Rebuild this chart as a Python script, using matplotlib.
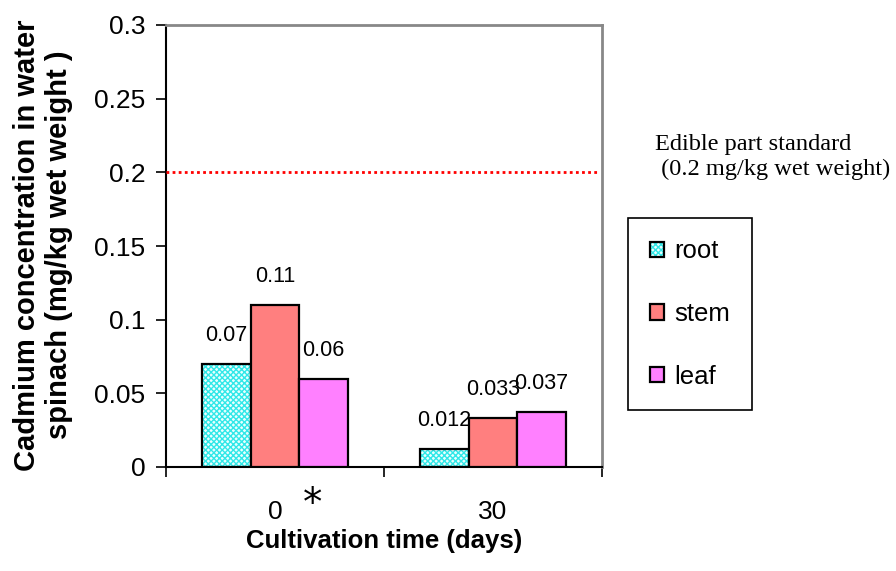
import matplotlib
matplotlib.use("Agg")
import matplotlib.pyplot as plt
import numpy as np
from matplotlib.patches import Patch
from matplotlib.legend_handler import HandlerTuple

plt.rcParams['font.family'] = ['Liberation Sans', 'DejaVu Sans']

categories = ["0", "30"]
series_names = ["root", "stem", "leaf"]
root = [0.07, 0.012]
stem = [0.11, 0.033]
leaf = [0.06, 0.037]
value_labels = [["0.07", "0.012"], ["0.11", "0.033"], ["0.06", "0.037"]]
standard = 0.2
yticks = [0, 0.05, 0.1, 0.15, 0.2, 0.25, 0.3]
ytick_labels = ["0", "0.05", "0.1", "0.15", "0.2", "0.25", "0.3"]

fig = plt.figure(figsize=(8.96, 5.71), dpi=100)
ax = fig.add_axes([166/896, 1-467/571, 436/896, 442/571])

x = np.arange(len(categories))
w = 0.223
series = [root, stem, leaf]
colors = ['#30E8E8', '#FF7F7F', '#FF80FF']

for i, (vals, col) in enumerate(zip(series, colors)):
    pos = x + (i - 1) * w
    if i == 0:
        ax.bar(pos, vals, w, facecolor='#E8FFFF', edgecolor=col, hatch='xxxxxx', linewidth=0, zorder=2)
        ax.bar(pos, vals, w, facecolor='none', edgecolor='black', linewidth=1.6, zorder=3)
    else:
        ax.bar(pos, vals, w, facecolor=col, edgecolor='black', linewidth=1.6, zorder=3)
    for p, v, lab in zip(pos, vals, value_labels[i]):
        ax.annotate(lab, (p, v), xytext=(0, 13), textcoords='offset points',
                    ha='center', va='bottom', fontsize=15.5, zorder=5)

ax.axhline(standard, xmin=0, xmax=0.99, color='red', linestyle=(0, (1, 1.2)), linewidth=2, zorder=4)

ax.set_xlim(-0.5, 1.5)
ax.set_ylim(0, 0.3)
ax.set_yticks(yticks)
ax.set_yticklabels(ytick_labels)
ax.tick_params(axis='y', direction='out', length=7, width=1.2, pad=8, labelsize=19)
ax.set_xticks(x)
ax.set_xticklabels(categories)
ax.set_xticks([-0.5, 0.5, 1.5], minor=True)
ax.tick_params(axis='x', which='major', length=0, pad=24, labelsize=19)
ax.tick_params(axis='x', which='minor', length=7, width=1.2, direction='out')

for s in ['left', 'bottom']:
    ax.spines[s].set_color('black')
    ax.spines[s].set_linewidth(1.5)
for s in ['top', 'right']:
    ax.spines[s].set_color('#888888')
    ax.spines[s].set_linewidth(2)

fig.text(313/896, 1-515/571, "*", fontsize=28, family='DejaVu Sans', ha='center', va='baseline')

fig.text(384/896, 1-541/571, "Cultivation time (days)", fontsize=18.5, fontweight='bold',
         ha='center', va='center')
fig.text(43/896, 1-245/571, "Cadmium concentration in water\nspinach (mg/kg wet weight )",
         fontsize=21, fontweight='bold', rotation=90, ha='center', va='center',
         multialignment='center', linespacing=1.22)

fig.text(655/896, 1-157/571, "Edible part standard\n (0.2 mg/kg wet weight)",
         family='Liberation Serif', fontsize=17.6, ha='left', va='center', linespacing=1.25)

root_handle = (Patch(facecolor='#E8FFFF', edgecolor=colors[0], hatch='xxxxxx', linewidth=0),
               Patch(facecolor='none', edgecolor='black', linewidth=1.6))
stem_handle = Patch(facecolor=colors[1], edgecolor='black', linewidth=1.6)
leaf_handle = Patch(facecolor=colors[2], edgecolor='black', linewidth=1.6)
leg = fig.legend([root_handle, stem_handle, leaf_handle], series_names,
                 handler_map={tuple: HandlerTuple(ndivide=1)},
                 loc='center', bbox_to_anchor=(690/896, 1-314/571),
                 fontsize=18.5, handlelength=0.55, handleheight=0.55, handletextpad=0.4,
                 labelspacing=1.5, borderpad=0.85, borderaxespad=0, fancybox=False,
                 frameon=True, edgecolor='black', framealpha=1)
leg.get_frame().set_linewidth(1.2)

fig.savefig("out.png", dpi=100)
